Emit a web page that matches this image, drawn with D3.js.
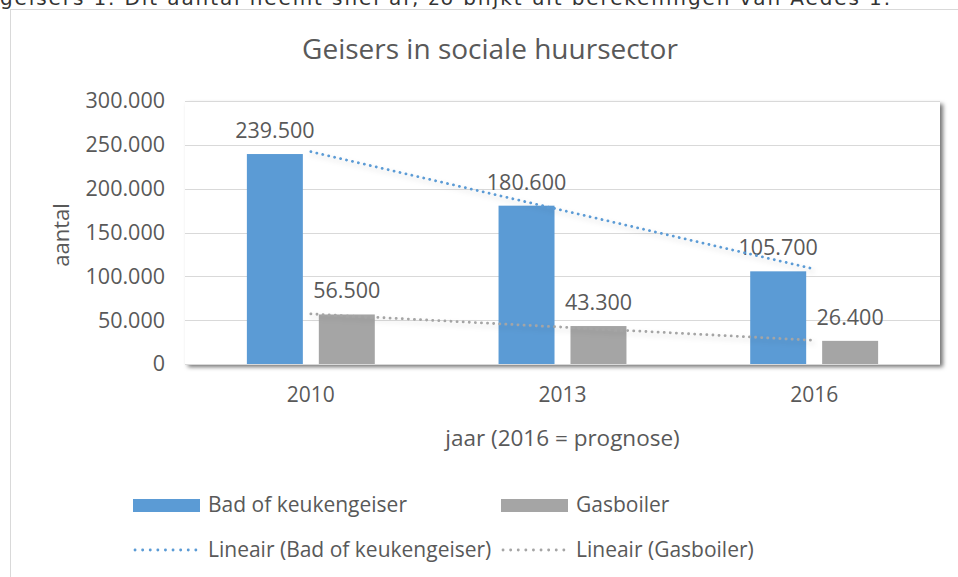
<!DOCTYPE html>
<html>
<head>
<meta charset="utf-8">
<script src="https://cdn.jsdelivr.net/npm/d3@7"></script>
<style>
  body { margin: 0; background: #fff; }
  text { font-family: "Open Sans", Lato, sans-serif; fill: #595959; }
</style>
</head>
<body>
<svg id="chart"></svg>
<script>
// data
const years = ["2010", "2013", "2016"];
const seriesNames = ["Bad of keukengeiser", "Gasboiler"];
const badValues = [239500, 180600, 105700];
const gasValues = [56500, 43300, 26400];
const yTicks = [0, 50000, 100000, 150000, 200000, 250000, 300000];
const trendNames = ["Lineair (Bad of keukengeiser)", "Lineair (Gasboiler)"];

const colors = ["#5B9BD5", "#A5A5A5"];

const width = 958;
const height = 577;
const plot = { left: 185, right: 940, top: 101, bottom: 364 };

const nl = d3.formatLocale({ decimal: ",", thousands: ".", grouping: [3], currency: ["€", ""] });
const fmt = nl.format(",");

const svg = d3.select("#chart").attr("width", width).attr("height", height);

const defs = svg.append("defs");
defs.append("filter").attr("id", "plotShadow")
  .attr("x", "-5%").attr("y", "-5%").attr("width", "115%").attr("height", "120%")
  .append("feDropShadow")
  .attr("dx", 3).attr("dy", 3).attr("stdDeviation", 2)
  .attr("flood-color", "#000").attr("flood-opacity", 0.55);
defs.append("filter").attr("id", "lineShadow")
  .attr("x", "-10%").attr("y", "-50%").attr("width", "120%").attr("height", "200%")
  .append("feDropShadow")
  .attr("dx", 2).attr("dy", 3).attr("stdDeviation", 2.5)
  .attr("flood-color", "#000").attr("flood-opacity", 0.18);

// cut-off line of text above the chart
svg.append("text")
  .attr("x", 0).attr("y", 5)
  .style("font-family", "'DejaVu Sans', sans-serif")
  .style("font-size", "20px")
  .style("fill", "#333")
  .attr("textLength", 890)
  .text("geisers 1. Dit aantal neemt snel af, zo blijkt uit berekeningen van Aedes 1.");

// outer chart frame
svg.append("rect")
  .attr("x", 10.5).attr("y", 9.5)
  .attr("width", 1000).attr("height", 700)
  .attr("fill", "#fff").attr("stroke", "#d9d9d9");

// title
svg.append("text")
  .attr("x", 490).attr("y", 59)
  .attr("text-anchor", "middle")
  .style("font-size", "28px")
  .text("Geisers in sociale huursector");

// scales
const y = d3.scaleLinear().domain([0, 300000]).range([plot.bottom, plot.top]);
const x0 = d3.scaleBand().domain(years).range([plot.left, plot.right]);
const x1 = d3.scaleBand().domain(seriesNames).range([0, x0.bandwidth()])
  .paddingInner(0.222).paddingOuter(0.86);

// plot area with shadow
svg.append("rect")
  .attr("x", plot.left).attr("y", plot.top)
  .attr("width", plot.right - plot.left).attr("height", plot.bottom - plot.top)
  .attr("fill", "#fff")
  .attr("filter", "url(#plotShadow)");

// gridlines
svg.append("g")
  .selectAll("line")
  .data(yTicks)
  .join("line")
  .attr("x1", plot.left).attr("x2", plot.right)
  .attr("y1", d => Math.round(y(d)) + 0.5).attr("y2", d => Math.round(y(d)) + 0.5)
  .attr("stroke", "#d9d9d9");

// y axis
const gy = svg.append("g").attr("transform", `translate(${plot.left},0)`)
  .call(d3.axisLeft(y).tickValues(yTicks).tickFormat(fmt).tickSize(0).tickPadding(20));
gy.select(".domain").remove();
gy.selectAll("text").style("font-size", "21.5px").style("font-family", null).attr("fill", null);

// x axis
const gx = svg.append("g").attr("transform", `translate(0,${plot.bottom})`)
  .call(d3.axisBottom(x0).tickSize(0).tickPadding(23));
gx.select(".domain").remove();
gx.selectAll("text").style("font-size", "21px").style("font-family", null).attr("fill", null);

// axis titles
svg.append("text")
  .attr("transform", "translate(69,235) rotate(-90)")
  .attr("text-anchor", "middle")
  .style("font-size", "22px")
  .text("aantal");
svg.append("text")
  .attr("x", (plot.left + plot.right) / 2).attr("y", 446)
  .attr("text-anchor", "middle")
  .style("font-size", "22.5px")
  .text("jaar (2016 = prognose)");

// bars
const allSeries = [badValues, gasValues];
const rows = years.map((yr, i) => ({ year: yr, vals: seriesNames.map((s, k) => ({ name: s, k, v: allSeries[k][i] })) }));
const groups = svg.append("g").selectAll("g")
  .data(rows)
  .join("g")
  .attr("transform", d => `translate(${x0(d.year)},0)`);
groups.selectAll("rect")
  .data(d => d.vals)
  .join("rect")
  .attr("x", d => x1(d.name))
  .attr("y", d => y(d.v))
  .attr("width", x1.bandwidth())
  .attr("height", d => y(0) - y(d.v))
  .attr("fill", d => colors[d.k]);

// linear trendlines (least squares over category index)
function linearFit(vals) {
  const n = vals.length;
  const mx = d3.mean(vals, (v, i) => i);
  const my = d3.mean(vals);
  const slope = d3.sum(vals, (v, i) => (i - mx) * (v - my)) / d3.sum(vals, (v, i) => (i - mx) * (i - mx));
  return [0, n - 1].map(i => ({ i, v: my + slope * (i - mx) }));
}
const line = d3.line()
  .x(d => x0(years[d.i]) + x0.bandwidth() / 2)
  .y(d => y(d.v));
allSeries.forEach((vals, k) => {
  svg.append("path")
    .attr("d", line(linearFit(vals)))
    .attr("fill", "none")
    .attr("stroke", colors[k])
    .attr("stroke-width", 2.8)
    .attr("stroke-linecap", "round")
    .attr("stroke-dasharray", "0.1,6")
    .attr("filter", "url(#lineShadow)");
});

// data labels
groups.selectAll("text.lbl")
  .data(d => d.vals)
  .join("text")
  .attr("class", "lbl")
  .attr("x", d => x1(d.name) + x1.bandwidth() / 2)
  .attr("y", d => y(d.v) - 16)
  .attr("text-anchor", "middle")
  .style("font-size", "21.5px")
  .text(d => fmt(d.v));

// legend
const legendX = [133, 501];
const legendY = [505, 550];
const leg = svg.append("g");
seriesNames.forEach((s, k) => {
  leg.append("rect")
    .attr("x", legendX[k]).attr("y", legendY[0] - 6)
    .attr("width", 67).attr("height", 13)
    .attr("fill", colors[k]);
  leg.append("text")
    .attr("x", legendX[k] + 75).attr("y", legendY[0] + 7)
    .style("font-size", "21px")
    .text(s);
});
trendNames.forEach((s, k) => {
  leg.append("line")
    .attr("x1", legendX[k] + 2).attr("x2", legendX[k] + 64)
    .attr("y1", legendY[1]).attr("y2", legendY[1])
    .attr("stroke", colors[k])
    .attr("stroke-width", 2.8)
    .attr("stroke-linecap", "round")
    .attr("stroke-dasharray", "0.1,7.5");
  leg.append("text")
    .attr("x", legendX[k] + 75).attr("y", legendY[1] + 7)
    .style("font-size", "21px")
    .text(s);
});
</script>
</body>
</html>
